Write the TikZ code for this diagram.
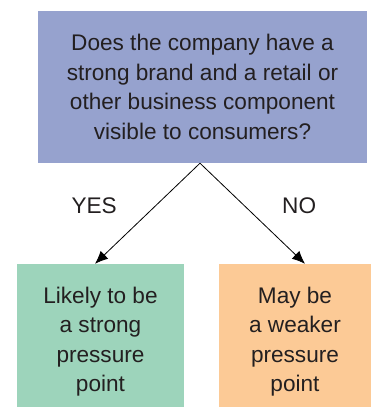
\documentclass[tikz,border=0pt]{standalone}
\usepackage{fontspec}
\setmainfont{Liberation Sans}
\usetikzlibrary{positioning,arrows.meta}

\definecolor{qblue}{RGB}{150,162,206}
\definecolor{ygreen}{RGB}{157,212,187}
\definecolor{norange}{RGB}{252,202,150}
\definecolor{txtgray}{RGB}{35,31,32}

\begin{document}
\begin{tikzpicture}[x=1pt,y=1pt,on grid,>={Latex[length=13pt,width=11pt]},
   every node/.style={text=txtgray,font=\fontsize{22.6}{29.5}\selectfont},
   box/.style={rectangle,inner sep=0pt,align=center}]
   \useasboundingbox (0,0) rectangle (371,407);
   \node[box,fill=qblue,minimum width=329pt,minimum height=152pt] (q) at (202.5,320)
      {Does the company have a\\
       strong brand and a retail or\\
       other business component\\
       visible to consumers?};
   \node[box,fill=ygreen,minimum width=167pt,minimum height=155pt] (yes)
      [below left=254.5pt and 102pt of q]
      {Likely to be\\ a strong\\ pressure\\ point};
   \node[box,fill=norange,minimum width=152pt,minimum height=155pt] (no)
      [below right=254.5pt and 92.5pt of q]
      {May be\\ a weaker\\ pressure\\ point};
   \draw[->,line width=0.8pt] ([xshift=-2.5pt]q.south) -- node[midway,left=27pt,yshift=8pt] {YES} ([xshift=-5.5pt]yes.north);
   \draw[->,line width=0.8pt] ([xshift=-2.5pt]q.south) -- node[midway,right=26pt,yshift=8pt] {NO} ([xshift=10pt]no.north);
\end{tikzpicture}
\end{document}
